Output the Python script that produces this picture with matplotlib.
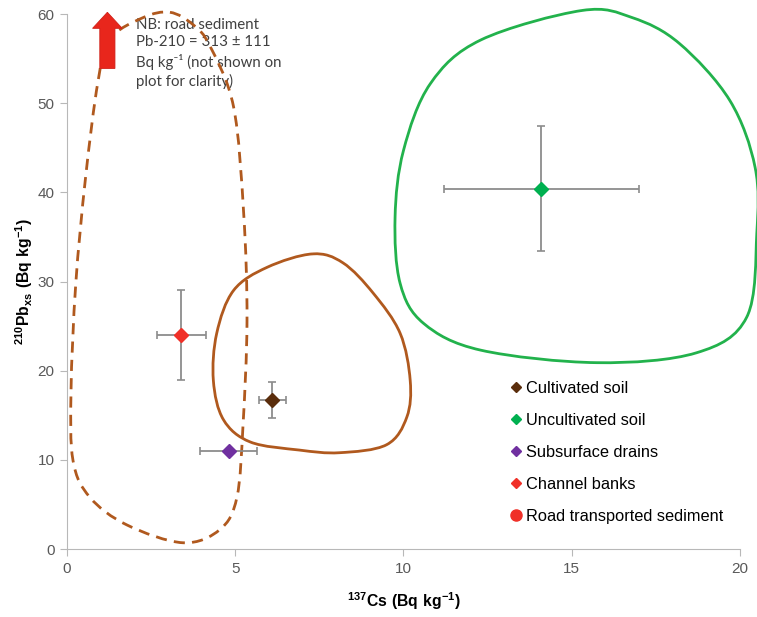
import matplotlib
matplotlib.use("Agg")
import matplotlib.pyplot as plt
import numpy as np
from matplotlib.path import Path
from matplotlib.patches import PathPatch, FancyArrow
from matplotlib.lines import Line2D

plt.rcParams['font.family'] = ['Liberation Sans', 'DejaVu Sans']
plt.rcParams['mathtext.fontset'] = 'custom'
plt.rcParams['mathtext.bf'] = 'Liberation Sans:bold'
plt.rcParams['mathtext.rm'] = 'Lato'
plt.rcParams['mathtext.default'] = 'regular'

# source groups: mean and error of 137Cs (x) and 210Pbxs (y), Bq/kg
sources = ['Cultivated soil', 'Uncultivated soil', 'Subsurface drains', 'Channel banks']
cs_mean = [6.1, 14.1, 4.8, 3.4]
cs_err = [0.4, 2.9, 0.85, 0.72]
pb_mean = [16.7, 40.4, 11.0, 24.0]
pb_err = [2.0, 7.0, 0.0, 5.0]
colors = ['#5a2d0c', '#00b050', '#7030a0', '#f03028']

# outlines of the source envelopes (x, y), traced clockwise
uncult_x = [15.3, 16.8, 18.2, 19.7, 20.45, 20.5, 20.2, 18.7, 15.75, 12.3, 10.6, 9.9, 9.75, 10.0, 10.8, 12.3]
uncult_y = [60.4, 59.6, 56.7, 50.3, 42.8, 35.4, 26.0, 22.0, 20.9, 22.3, 25.3, 29.8, 37.2, 44.7, 52.2, 57.1]
cult_x = [7.3, 8.2, 9.1, 9.9, 10.2, 10.1, 9.5, 8.1, 6.9, 5.45, 4.65, 4.35, 4.45, 4.95, 5.95]
cult_y = [33.1, 32.1, 28.7, 24.2, 18.9, 14.8, 11.7, 10.8, 11.1, 12.0, 14.5, 18.9, 24.2, 29.0, 31.6]
channel_x = [3.06, 3.75, 4.25, 4.95, 5.25, 5.35, 5.23, 5.05, 4.55, 3.45, 1.78, 0.68, 0.18, 0.12, 0.26, 0.55, 0.92, 1.28, 2.26]
channel_y = [60.2, 58.8, 56.4, 49.6, 37.7, 25.7, 13.8, 5.8, 2.2, 0.7, 2.7, 5.8, 9.9, 17.8, 29.7, 41.6, 52.4, 57.2, 59.6]

road_note = "NB: road sediment\nPb-210 = 313 ± 111\nBq kg\u207b\u00b9 (not shown on\nplot for clarity)"


def closed_curve(xs, ys):
    """Smooth closed path through the given points (Catmull-Rom as Bezier)."""
    p = np.column_stack([xs, ys])
    n = len(p)
    verts = [p[0]]
    codes = [Path.MOVETO]
    for i in range(n):
        p0, p1, p2, p3 = p[i - 1], p[i], p[(i + 1) % n], p[(i + 2) % n]
        verts += [p1 + (p2 - p0) / 6, p2 - (p3 - p1) / 6, p2]
        codes += [Path.CURVE4] * 3
    return Path(verts, codes)


fig = plt.figure(figsize=(7.57, 6.17), dpi=100)
ax = fig.add_axes([0.0885, 0.1102, 0.889, 0.867])
ax.set_xlim(0, 20)
ax.set_ylim(0, 60)

brown = '#b0591e'
ax.add_patch(PathPatch(closed_curve(uncult_x, uncult_y), fill=False,
                       ec='#22b24c', lw=2.0, clip_on=False, zorder=2))
ax.add_patch(PathPatch(closed_curve(cult_x, cult_y), fill=False,
                       ec=brown, lw=2.0, clip_on=False, zorder=2))
ax.add_patch(PathPatch(closed_curve(channel_x, channel_y), fill=False,
                       ec=brown, lw=2.0, ls=(0, (4, 2.6)), clip_on=False, zorder=2))

# arrow for the off-scale road sediment value
ax.add_patch(FancyArrow(1.2, 53.9, 0, 6.3, width=0.45, head_width=0.88,
                        head_length=1.8, length_includes_head=True,
                        fc='#e8261c', ec='#d02018', lw=0.6, clip_on=False, zorder=3))
ax.text(2.05, 59.6, road_note, family=['Lato', 'DejaVu Sans'], fontsize=10.8,
        color='#404040', va='top', ha='left', linespacing=1.34, zorder=1)

for i in range(len(sources)):
    ax.errorbar(cs_mean[i], pb_mean[i], xerr=cs_err[i],
                yerr=pb_err[i] if pb_err[i] > 0 else None,
                fmt='D', ms=7.5, color=colors[i], ecolor='#8c8c8c',
                elinewidth=1.3, capsize=3, capthick=1.2, zorder=4)

handles = [Line2D([], [], ls='none', marker='D', ms=5, color=c) for c in colors]
handles.append(Line2D([], [], ls='none', marker='o', ms=8, color='#f03028'))
ax.legend(handles, sources + ['Road transported sediment'], frameon=False,
          loc='upper left', bbox_to_anchor=(0.66, 0.315), fontsize=11.8,
          handlelength=0.6, handletextpad=0.3, labelspacing=1.04,
          borderaxespad=0, borderpad=0)

for side in ['top', 'right']:
    ax.spines[side].set_visible(False)
for side in ['left', 'bottom']:
    ax.spines[side].set_color('#b8b8b8')
ax.set_xticks([0, 5, 10, 15, 20])
ax.set_yticks(range(0, 61, 10))
ax.tick_params(direction='out', length=5, color='#b8b8b8', labelcolor='#595959',
               labelsize=11, pad=4)

ax.set_xlabel(r'$\mathbf{^{137}Cs\ (Bq\ kg^{-1})}$', fontsize=11.3, labelpad=11)
ax.set_ylabel(r'$\mathbf{^{210}Pb_{xs}\ (Bq\ kg^{-1})}$', fontsize=11.3, labelpad=1.5)

fig.savefig('out.png', dpi=100)
